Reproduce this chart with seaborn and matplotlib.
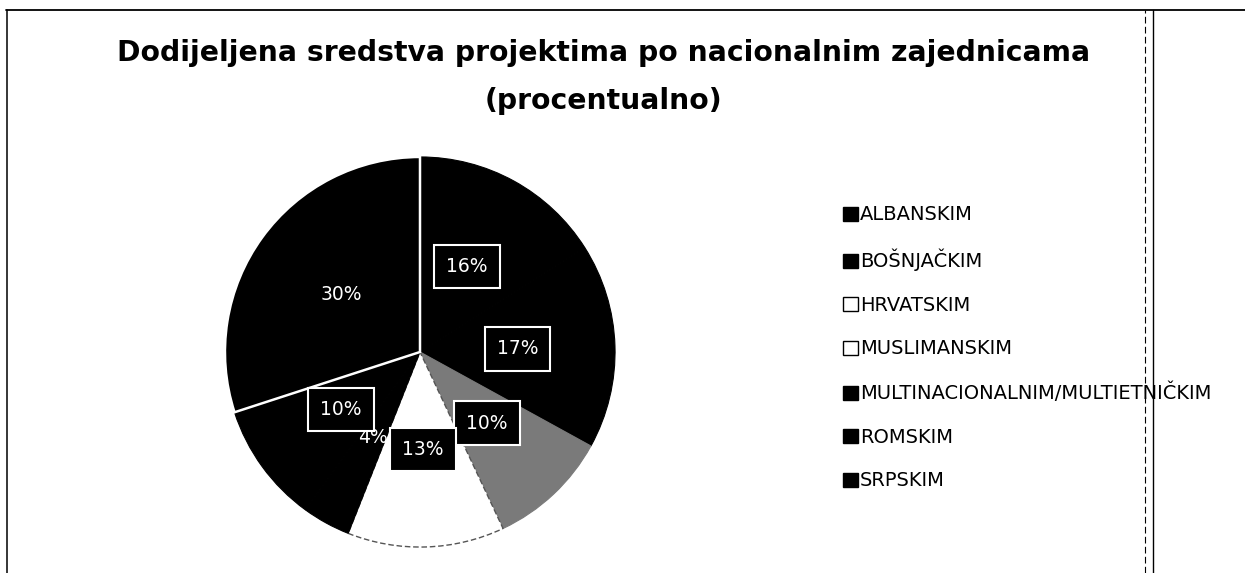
import matplotlib
matplotlib.use("Agg")
import matplotlib.pyplot as plt
import seaborn as sns
from matplotlib.patches import Patch
from matplotlib.lines import Line2D

sns.set_theme(style="white")
plt.rcParams["font.family"] = ["DejaVu Sans"]
plt.rcParams["text.color"] = "black"

# podaci
zajednice = ["ALBANSKIM", "BOŠNJAČKIM", "HRVATSKIM", "MUSLIMANSKIM",
             "MULTINACIONALNIM/MULTIETNIČKIM", "ROMSKIM", "SRPSKIM"]
procenti = [16, 17, 10, 13, 4, 10, 30]
boje = ["#000000", "#000000", "#7a7a7a", "#ffffff", "#000000", "#000000", "#000000"]
legenda_boje = ["#000000", "#000000", "#ffffff", "#ffffff", "#000000", "#000000", "#000000"]
bez_okvira = ["4%", "30%"]

fig = plt.figure(figsize=(12.45, 5.73), dpi=100)
fig.patch.set_facecolor("white")

# pie: centar (420, 352) px, radijus ~195 px
R = 197
ax = fig.add_axes([(420 - R) / 1245, (573 - 352 - R) / 573, 2 * R / 1245, 2 * R / 573])
wedges, texts, autotexts = ax.pie(
    procenti, colors=boje, startangle=90, counterclock=False,
    autopct="%1.0f%%", pctdistance=0.5,
    textprops=dict(color="white", fontsize=13.5))
ax.set_xlim(-1.01, 1.01)
ax.set_ylim(-1.01, 1.01)
ax.set_aspect("equal")
ax.axis("off")

# rubovi iste boje da se ne vide spojevi
for w, c in zip(wedges, boje):
    w.set_edgecolor(c)
    w.set_linewidth(0.8)
# bijele linije granica SRPSKIM
wedges[6].set_edgecolor("white")
wedges[6].set_linewidth(1.8)
wedges[6].set_zorder(3)
wedges[3].set_edgecolor("#555555")
wedges[3].set_linewidth(1.0)
wedges[3].set_linestyle((0, (4, 2)))

for t in autotexts:
    t.set_zorder(5)
    if t.get_text() not in bez_okvira:
        t.set_bbox(dict(boxstyle="square,pad=0.65", facecolor="black",
                        edgecolor="white", linewidth=1.5))

# naslov
fig.text(0.485, 0.907, "Dodijeljena sredstva projektima po nacionalnim zajednicama",
         ha="center", va="center", fontsize=20.3, fontweight="bold")
fig.text(0.485, 0.824, "(procentualno)", ha="center", va="center",
         fontsize=20.3, fontweight="bold")

# legenda
handles = [Patch(facecolor=c, edgecolor="black", linewidth=1) for c in legenda_boje]
fig.legend(handles, zajednice, loc="upper left", bbox_to_anchor=(0.671, 0.655),
           frameon=False, fontsize=14, handlelength=0.75, handleheight=0.75,
           handletextpad=0.12, labelspacing=1.26, borderaxespad=0)

# okvir skena
fig.add_artist(Line2D([0.005, 1.0], [0.982, 0.982], color="black", linewidth=1.3))
fig.add_artist(Line2D([0.006, 0.006], [0.0, 0.982], color="black", linewidth=1.1))
fig.add_artist(Line2D([0.9195, 0.9195], [0.0, 0.982], color="black", linewidth=0.8,
                      linestyle=(0, (6, 3))))
fig.add_artist(Line2D([0.926, 0.926], [0.0, 0.982], color="black", linewidth=1.0))

fig.savefig("out.png", dpi=100, facecolor="white")
